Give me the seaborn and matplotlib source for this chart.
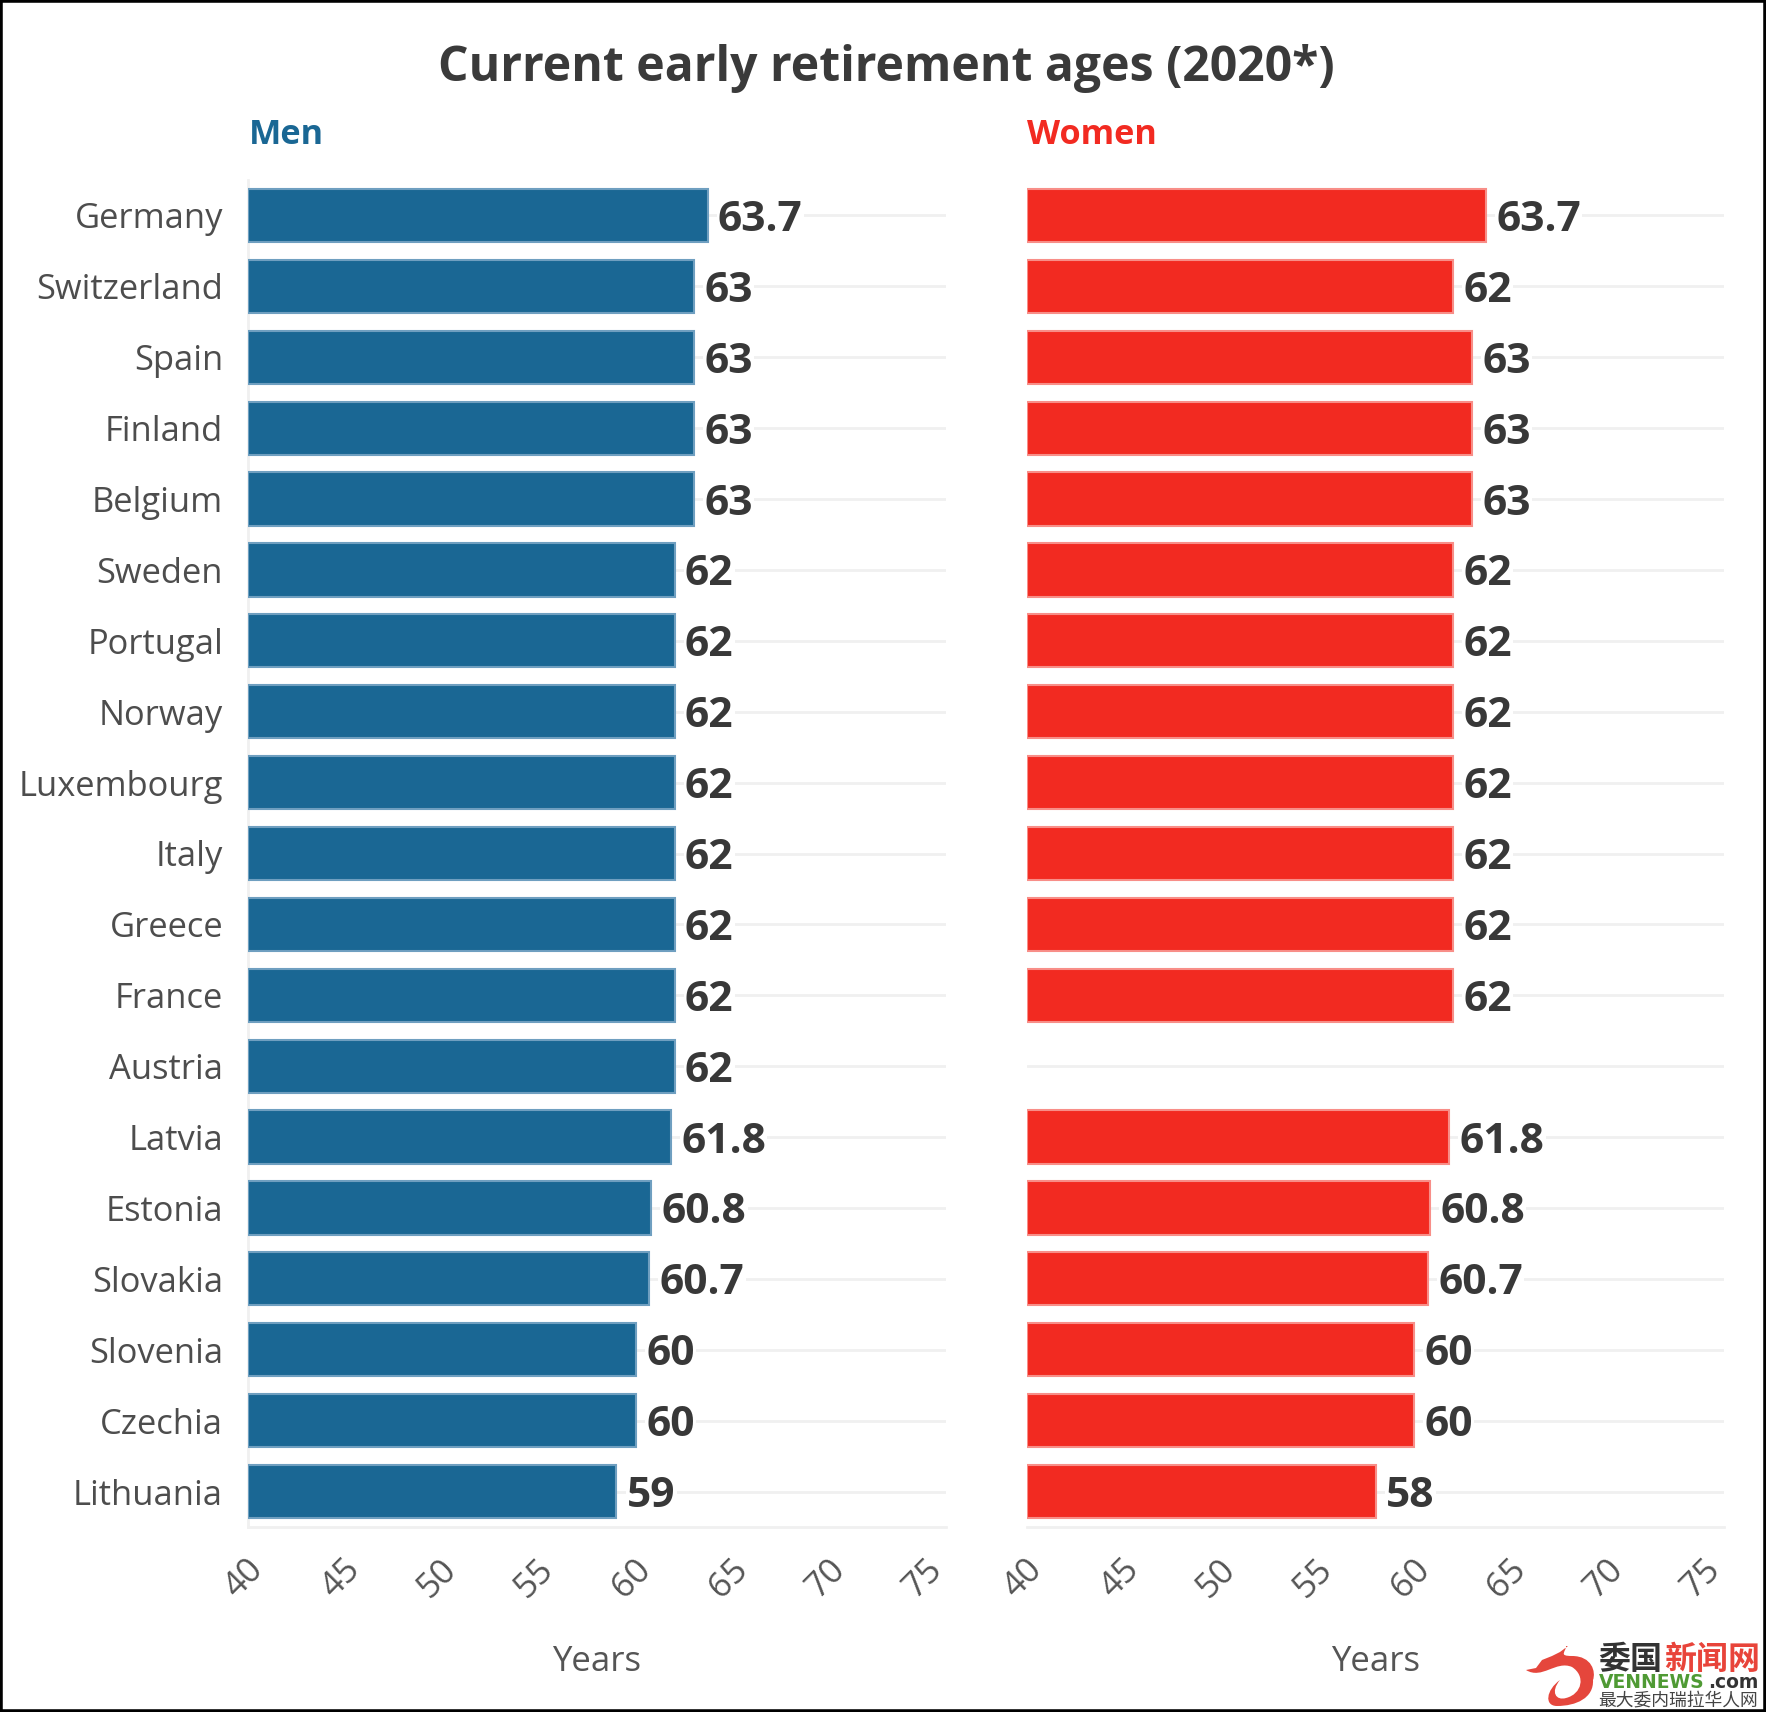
import matplotlib
matplotlib.use("Agg")
import matplotlib.pyplot as plt
from matplotlib.patches import PathPatch, Rectangle
from matplotlib.path import Path
from matplotlib.transforms import ScaledTranslation
import pandas as pd
import seaborn as sns

countries = ["Germany", "Switzerland", "Spain", "Finland", "Belgium", "Sweden",
             "Portugal", "Norway", "Luxembourg", "Italy", "Greece", "France",
             "Austria", "Latvia", "Estonia", "Slovakia", "Slovenia", "Czechia",
             "Lithuania"]
men = [63.7, 63, 63, 63, 63, 62, 62, 62, 62, 62, 62, 62, 62, 61.8, 60.8, 60.7, 60, 60, 59]
women = [63.7, 62, 63, 63, 63, 62, 62, 62, 62, 62, 62, 62, None, 61.8, 60.8, 60.7, 60, 60, 58]
xticks = [40, 45, 50, 55, 60, 65, 70, 75]

W, H = 1766, 1712
GREY = "#f0f0f0"

sns.set_theme(style="white")
plt.rcParams["font.family"] = ["Open Sans", "DejaVu Sans"]

df = pd.DataFrame({"country": countries, "men": men, "women": women})


def fx(x):
    return x / W


def fy(y):
    return 1 - y / H


def draw_panel(ax, col, color, edge):
    sns.barplot(data=df, y="country", x=col, order=countries, color=color, saturation=1,
                width=0.75, edgecolor=edge, linewidth=1.5, ax=ax, zorder=3)
    # bars start at the axis floor rather than at zero, so the left border shows
    for p in ax.containers[0]:
        p.set_width(p.get_width() - 40)
        p.set_x(40)
    labels = ax.bar_label(ax.containers[0], fmt="%g", padding=7.5, fontsize=30.6, fontweight="bold",
                          color="#383838", zorder=4,
                          bbox=dict(facecolor="white", edgecolor="none", pad=1))
    for t in labels:
        t.set_va("center_baseline")
    ax.set_xlim(40, 76)
    ax.set_xticks(xticks)
    ax.grid(axis="y", color=GREY, linewidth=2, zorder=0)
    ax.set_axisbelow(True)
    sns.despine(ax=ax, top=True, right=True)
    for s in ("left", "bottom"):
        ax.spines[s].set_color(GREY)
        ax.spines[s].set_linewidth(2)
    ax.tick_params(axis="x", length=13, width=2, color=GREY, labelsize=25, labelcolor="#555555",
                   pad=5.5, labelrotation=45)
    ax.set_xlabel("")
    ax.set_ylabel("")
    shift = ScaledTranslation(-4 / 100, 0, fig.dpi_scale_trans)
    for lab in ax.get_xticklabels():
        lab.set_ha("center")
        lab.set_transform(lab.get_transform() + shift)


fig = plt.figure(figsize=(W / 100, H / 100), dpi=100, facecolor="white")
ax_m = fig.add_axes([fx(248), fy(1527), 698 / W, 1347 / H])
ax_w = fig.add_axes([fx(1027), fy(1527), 697 / W, 1347 / H])

draw_panel(ax_m, "men", "#1a6794", "#6f9fc0")
draw_panel(ax_w, "women", "#f22a21", "#f88e88")

ax_m.tick_params(axis="y", length=13, width=2, color=GREY, labelsize=24.8, labelcolor="#4d4d4d", pad=5)
ax_w.tick_params(axis="y", left=False, labelleft=False)
ax_w.spines["left"].set_visible(False)

fig.text(fx(886), fy(81), "Current early retirement ages (2020*)", ha="center", va="baseline",
         fontsize=34.7, fontweight="bold", color="#3a3a3a")
fig.text(fx(249), fy(144), "Men", ha="left", va="baseline", fontsize=24.7, fontweight="bold", color="#1a6794")
fig.text(fx(1027), fy(144), "Women", ha="left", va="baseline", fontsize=24.7, fontweight="bold", color="#f22a21")
fig.text(fx(597), fy(1671), "Years", ha="center", va="baseline", fontsize=25, color="#555555")
fig.text(fx(1376), fy(1671), "Years", ha="center", va="baseline", fontsize=25, color="#555555")

# watermark logo and text, bottom right
cjk = ["Noto Sans CJK SC", "DejaVu Sans"]
fig.text(fx(1598), fy(1669), "委国", ha="left", va="baseline", fontsize=23, fontweight="bold",
         color="#333333", family=cjk)
fig.text(fx(1664), fy(1669), "新闻网", ha="left", va="baseline", fontsize=23, fontweight="bold",
         color="#e8443a", family=cjk)
fig.text(fx(1599), fy(1688), "VENNEWS", ha="left", va="baseline", fontsize=13.5, fontweight="bold",
         color="#4f9a34", family="DejaVu Sans")
fig.text(fx(1759), fy(1688), ".com", ha="right", va="baseline", fontsize=13.5, fontweight="bold",
         color="#333333", family="DejaVu Sans")
fig.text(fx(1598), fy(1705), "最大委内瑞拉华人网", ha="left", va="baseline", fontsize=12.8,
         color="#444444", family=cjk)

C4 = Path.CURVE4
verts = [(1526, 1670), (1536, 1668), (1542, 1660), (1552, 1656), (1560, 1652), (1568, 1646), (1566, 1646),
         (1566, 1652), (1558, 1656), (1572, 1656), (1592, 1656), (1596, 1672), (1593, 1680),
         (1594, 1698), (1576, 1706), (1557, 1706), (1544, 1706), (1546, 1690), (1560, 1680),
         (1550, 1692), (1556, 1701), (1566, 1698), (1582, 1694), (1586, 1676), (1572, 1667),
         (1556, 1660), (1542, 1680), (1526, 1670)]
codes = [Path.MOVETO] + [Path.LINETO] * 6 + [C4] * 21
fig.add_artist(PathPatch(Path([(fx(x), fy(y)) for x, y in verts], codes), transform=fig.transFigure,
                         facecolor="#e5463c", edgecolor="none"))

# black frame round the picture
fig.add_artist(Rectangle((0, 0), 1, 1, transform=fig.transFigure, fill=False, edgecolor="black", linewidth=4))

fig.savefig("out.png", dpi=100)
